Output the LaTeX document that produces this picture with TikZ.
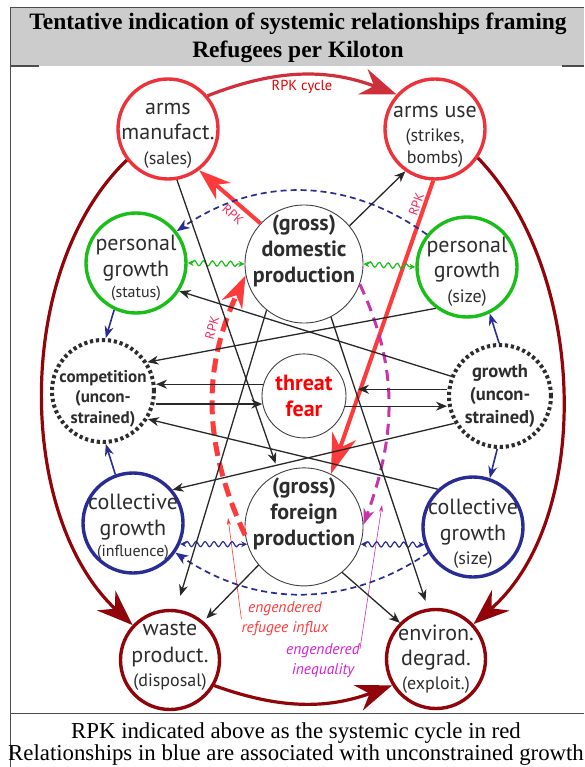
\documentclass[tikz,border=0pt]{standalone}
\usepackage{fontspec}
\setmainfont{Liberation Serif}
\newfontfamily\dgfont{PT Sans}
\usetikzlibrary{arrows.meta, positioning, decorations.pathmorphing}

\definecolor{ringred}{RGB}{238,50,58}
\definecolor{ringgreen}{RGB}{25,190,25}
\definecolor{ringblue}{RGB}{42,44,150}
\definecolor{ringdark}{RGB}{145,5,10}
\definecolor{cyclered}{RGB}{205,48,58}
\definecolor{rpkred}{RGB}{255,58,58}
\definecolor{rpklabel}{RGB}{245,40,90}
\definecolor{mag}{RGB}{200,50,170}
\definecolor{magtext}{RGB}{215,30,215}
\definecolor{linkgray}{RGB}{40,40,40}
\definecolor{textgray}{RGB}{45,45,45}
\definecolor{headgray}{RGB}{204,204,204}
\definecolor{dotgray}{RGB}{45,45,45}

\newcommand\subl[1]{{\fontsize{18}{20}\selectfont #1}}
\newcommand\subs[1]{{\fontsize{16}{18}\selectfont #1}}
\newcommand\padtop[1]{\rule{0pt}{#1}}
\newcommand\padbot[1]{\rule[-#1]{0pt}{#1}}
\newcommand\lifted[1]{\raisebox{13pt}[\height][\depth]{\begin{tabular}{@{}c@{}}#1\end{tabular}}}

\tikzset{
	ring/.style={circle, minimum size=100pt, inner sep=-20pt, line width=3.4pt,
		align=center, text=textgray, font=\dgfont\fontsize{22}{25.5}\selectfont},
	armsring/.style={ring, draw=ringred},
	persring/.style={ring, draw=ringgreen},
	collring/.style={ring, draw=ringblue},
	endring/.style={ring, draw=ringdark, minimum size=99pt},
	dotring/.style={ring, draw=dotgray, minimum size=102pt, line width=4pt,
		dash pattern=on 3.2pt off 2.8pt},
	prodring/.style={circle, draw=black!75, line width=0.9pt, minimum size=118pt,
		inner sep=-30pt, text=textgray, font=\dgfont\bfseries\fontsize{22}{26}\selectfont},
	fearring/.style={circle, draw=black!75, line width=0.9pt, minimum size=84pt,
		inner sep=-30pt, align=center, text=red, font=\dgfont\bfseries\fontsize{22}{26.5}\selectfont},
	link/.style={draw=linkgray, line width=1.3pt, -{Stealth[length=11pt,width=9pt,inset=3.5pt]}},
	rpk/.style={draw=rpkred, line width=4pt, -{Stealth[length=32pt,width=22pt,inset=10pt]}},
	rpkdash/.style={rpk, line width=5pt, dash pattern=on 14pt off 7pt},
	ineqdash/.style={draw=mag, line width=3pt, dash pattern=on 11pt off 7pt,
		-{Stealth[length=16pt,width=11pt,inset=5pt]}},
	cyclearc/.style={draw=ringdark, line width=3.2pt, -{Stealth[length=36pt,width=27pt,inset=12pt]}},
	wave/.style={decorate, decoration={snake, amplitude=2.6pt, segment length=9pt,
			pre length=4pt, post length=4pt}, line width=1.2pt,
		{Stealth[length=6pt,width=6pt]}-{Stealth[length=6pt,width=6pt]}},
	bluedash/.style={draw=ringblue, line width=1.7pt, dash pattern=on 6pt off 4pt,
		-{Stealth[length=13pt,width=10pt,inset=4pt]}},
	bluelink/.style={draw=ringblue, line width=1.6pt, -{Stealth[length=12pt,width=9pt,inset=4pt]}},
	pointer/.style={line width=0.6pt, -{Stealth[length=7pt,width=4pt]}},
	rpktag/.style={font=\dgfont\fontsize{13}{13}\selectfont, text=rpklabel, inner sep=1.5pt},
	note/.style={font=\dgfont\itshape\fontsize{15.5}{20}\selectfont, align=center, inner sep=0pt},
	headtext/.style={font=\bfseries\fontsize{23.5}{28}\selectfont, align=center, inner sep=0pt},
	foottext/.style={font=\fontsize{22.8}{22}\selectfont, align=center, inner sep=0pt}
}

\begin{document}
\begin{tikzpicture}[x=1pt, y=-1pt]
	\useasboundingbox (0,0) rectangle (584,767);
	
	%% ---- Table frame ----
	\fill[headgray] (10,8) rectangle (584,66);
	\draw[line width=1pt, black!70] (10,767) -- (10,8) -- (584,8);
	\draw[line width=1.6pt, black!70] (10,66) -- (39,66) (562,66) -- (584,66);
	\draw[line width=1pt, black!70] (10,713) -- (584,713);
	\node[headtext] (head) at (298,38)
	{Tentative indication of systemic relationships framing\\Refugees per Kiloton};
	\node[foottext] (foot) at (296,744)
	{RPK indicated above as the systemic cycle in red\\Relationships in blue are associated with unconstrained growth};
	
	%% ---- Arms (top) ----
	\node[armsring] (am) at (168,129) {\padtop{25pt}arms\\manufact.\\[-0.5pt]\subl{(sales)}};
	\node[armsring] (au) at (435,129) {\padtop{27pt}arms use\\[-1.5pt]\subl{(strikes,}\\[-3pt]\subl{bombs)}};
	
	%% ---- Production and threat (centre) ----
	\node[prodring] (gdp) at (304,264) {\lifted{(gross)\\domestic\\production}};
	\node[fearring, below=30pt of gdp] (thr) {threat\\fear};
	\node[prodring, below=144pt of gdp] (gf) {\lifted{(gross)\\foreign\\production}};
	
	%% ---- Growth rings (sides) ----
	\node[persring] (pgs) at (136,263) {\padtop{26pt}personal\\[0.5pt]growth\\[-4pt]\subs{(status)}};
	\node[persring] (pgz) at (467,267) {\padtop{24pt}personal\\growth\\[-1pt]\subl{(size)}};
	\node[dotring, font=\dgfont\bfseries\fontsize{17}{20.5}\selectfont] (comp) at (103,391)
	{\padtop{27pt}competition\\(uncon-\\strained)};
	\node[dotring, font=\dgfont\bfseries\fontsize{18.5}{23}\selectfont] (grow) at (500,396)
	{growth\\(uncon-\\strained)};
	\node[collring] (cgi) at (133,523) {\padtop{24pt}collective\\[0.5pt]growth\\[-4.5pt]\subs{(influence)}};
	\node[collring] (cgs) at (473,527) {\padtop{29pt}collective\\growth\\[-1pt]\subl{(size)}};
	
	%% ---- Outcomes (bottom) ----
	\node[endring] (wp) at (170,660) {waste\\[1.5pt]product.\\[-1.5pt]\subl{(disposal)\padbot{12pt}}};
	\node[endring] (ed) at (436,659) {environ.\\degrad.\\[-1.5pt]\subl{(exploit.)}};
	
	%% ---- RPK cycle (outer ring) ----
	\draw[cyclearc, draw=cyclered] (am.40) to[bend left=21]
	node[rpktag, text=red!90!black, font=\dgfont\fontsize{14.5}{14.5}\selectfont, below=2pt] {RPK cycle}
	(au.138);
	\draw[cyclearc] (am.217) to[out=224, in=137, looseness=0.87] (wp.137);
	\draw[cyclearc] (au.326) to[out=-46, in=41, looseness=0.87] (ed.43);
	\draw[cyclearc] (wp.-30) to[bend right=20] (ed.211);
	
	%% ---- RPK links (red) ----
	\draw[rpk] (gdp.137) -- node[rpktag, sloped, below=3pt, pos=0.33] {RPK} (am.307);
	\draw[rpk, -{Stealth[length=40pt,width=25pt,inset=12pt]}] (au.268) --
	node[rpktag, sloped, above, pos=0.09] {RPK} (gf.63);
	\draw[rpkdash] (gf.188) to[out=115, in=245]
	node[rpktag, sloped, above=4pt, pos=0.79] {RPK} (gdp.191);
	\draw[ineqdash] (gdp.340) to[out=-65, in=70] (gf.2);
	
	%% ---- Engendered effects ----
	\node[note, text=rpkred] (influx) at (285,619) {engendered\\refugee influx};
	\node[note, text=magtext] (ineq) at (323,661) {engendered\\inequality};
	\coordinate (influxtip) at (228,518);
	\coordinate (ineqtip) at (382,505);
	\draw[pointer, rpkred] (influx.west) -- (influxtip);
	\draw[pointer, mag] ([yshift=-5pt]ineq.north east) -- (ineqtip);
	
	%% ---- Exchanges (wavy) ----
	\draw[wave, ringgreen] (pgs.east) -- (gdp.west);
	\draw[wave, ringgreen] (gdp.east) -- (pgz.west);
	\draw[wave, ringblue] (cgi.-24) -- (gf.197);
	\draw[wave, ringblue] (gf.343) -- (cgs.200);
	
	%% ---- Unconstrained growth (blue) ----
	\draw[bluedash] (pgz.141) to[bend right=35] (pgs.38);
	\draw[bluedash] (cgs.210) to[bend left=34] (cgi.325);
	\draw[bluelink] (pgs.245) -- (comp.87);
	\draw[bluelink] (cgi.110) -- (comp.273);
	\draw[bluelink] (grow.91) -- (pgz.296);
	\draw[bluelink] (grow.267) -- (cgs.71);
	
	%% ---- Other relationships (black) ----
	\draw[link] (gdp.40) -- (au.235);
	\draw[link, shorten >=10pt] (am.280) -- (gf.115);
	\draw[link, shorten >=14pt] (gdp.231) -- (wp.83);
	\draw[link, shorten >=8pt] (gdp.297) -- (ed.99);
	\draw[link, shorten >=4pt] (gf.220) -- (wp.49);
	\draw[link] (gf.310) -- (ed.135);
	\draw[link] (pgz.233) -- (comp.33);
	\draw[link] (grow.158) -- (pgs.-33);
	\draw[link] (thr.164) -- (thr.164 -| comp.east);
	\draw[link] (comp.east |- thr.191) -- (thr.191);
	\draw[link, shorten >=12pt] (grow.west |- thr.9) -- (thr.9);
	\draw[link] (thr.-14) -- (thr.-14 -| grow.west);
	\draw[link] (grow.211) -- (cgi.40);
	\draw[link] (cgs.133) -- (comp.-32);
	
\end{tikzpicture}
\end{document}
